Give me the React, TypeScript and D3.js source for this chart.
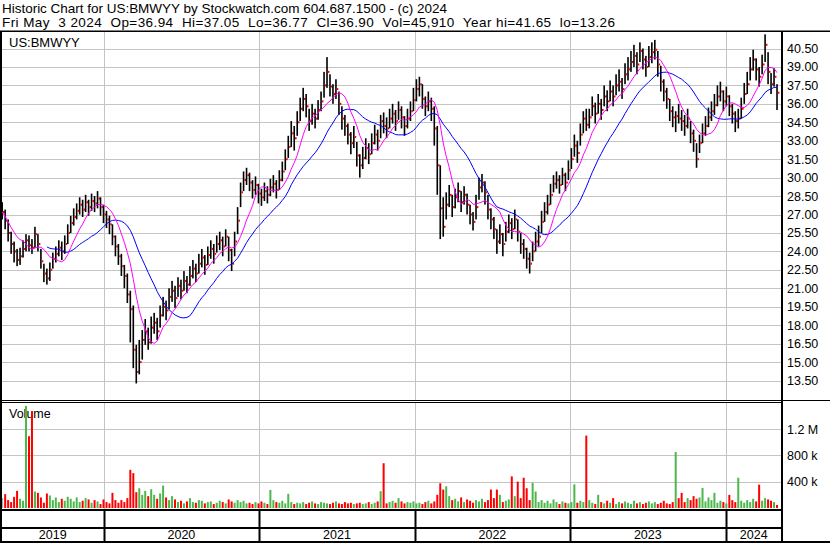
import React from 'react';
import * as d3 from 'd3';

const HEADER1 = 'Historic Chart for US:BMWYY by Stockwatch.com 604.687.1500 - (c) 2024';
const HEADER2 = 'Fri May  3 2024  Op=36.94  Hi=37.05  Lo=36.77  Cl=36.90  Vol=45,910  Year hi=41.65  lo=13.26';
const SYMBOL = 'US:BMWYY';
const VOLUME_TITLE = 'Volume';

const FIRST_WEEK = new Date(2019, 4, 8);

const CLOSE = [
  27.2, 26.5, 25.5, 24.6, 24.0, 23.3, 23.6, 24.2, 24.9, 24.5,
  24.3, 25.4, 24.6, 23.2, 22.2, 21.8, 22.5, 23.4, 23.8, 24.3,
  24.0, 24.6, 25.5, 26.3, 26.8, 27.3, 27.8, 27.4, 28.0, 27.6,
  28.1, 27.9, 28.3, 27.6, 27.0, 26.6, 26.2, 25.2, 24.4, 23.6,
  22.8, 22.0, 20.5, 19.3, 16.0, 14.2, 15.0, 16.8, 17.5, 16.6,
  17.8, 18.2, 17.5, 18.8, 19.5, 19.2, 20.3, 20.8, 20.2, 21.2,
  20.8, 21.6, 21.3, 22.0, 22.6, 22.2, 23.0, 23.5, 22.9, 23.7,
  24.2, 23.8, 24.6, 24.9, 24.4, 25.2, 24.1, 23.0, 24.8, 26.5,
  28.8, 29.8, 30.2, 29.6, 29.0, 29.4, 28.7, 28.4, 28.9, 28.6,
  29.2, 29.5, 29.0, 29.8, 30.5, 31.5, 32.5, 33.6, 33.2, 34.5,
  35.6, 36.4, 35.8, 34.6, 35.2, 34.8, 35.5, 36.2, 37.5, 38.6,
  37.4, 36.8, 37.2, 36.0, 34.8, 34.2, 33.5, 32.8, 33.3, 31.8,
  31.0, 31.6, 32.4, 31.9, 32.8, 33.5, 33.0, 34.6, 34.2, 34.0,
  34.8, 35.2, 34.6, 35.5, 34.9, 34.2, 34.8, 35.4, 36.3, 37.2,
  37.6, 36.4, 35.8, 36.2, 35.6, 34.0, 31.0, 27.5, 26.0, 27.8,
  28.6, 27.6, 28.4, 28.9, 28.0, 28.6, 27.8, 27.0, 26.4, 27.6,
  29.2, 29.6, 28.8, 27.4, 26.6, 25.8, 24.8, 25.4, 24.6, 25.6,
  26.3, 25.8, 26.6, 25.6, 24.6, 24.2, 23.4, 23.0, 24.0, 24.8,
  25.2, 26.4, 27.2, 27.8, 28.6, 29.5, 29.8, 29.4, 30.2, 29.6,
  30.6, 31.5, 32.6, 32.0, 33.5, 34.8, 34.3, 34.9, 35.8, 35.2,
  36.0, 35.5, 36.6, 36.2, 37.0, 36.6, 37.5, 37.8, 37.2, 38.4,
  38.8, 39.4, 39.9, 39.2, 40.3, 39.6, 39.0, 39.8, 40.2, 40.4,
  39.2, 37.8, 37.0, 36.4, 35.4, 34.9, 35.0, 34.8, 34.6, 34.2,
  34.8, 33.6, 33.0, 31.5, 32.8, 33.6, 34.2, 34.9, 35.4, 35.9,
  36.6, 37.0, 36.2, 36.6, 35.8, 35.2, 34.6, 34.8, 35.6, 36.8,
  37.6, 38.8, 39.6, 38.8, 38.2, 39.2, 40.8, 38.6, 37.6, 38.2,
  36.9,
];

const HIGH = [
  28.0, 27.4, 26.6, 25.6, 24.8, 24.2, 24.3, 24.9, 25.4, 25.3,
  25.0, 26.0, 25.4, 24.2, 23.0, 22.6, 23.1, 23.9, 24.4, 24.9,
  24.8, 25.3, 26.2, 26.9, 27.5, 27.9, 28.4, 28.2, 28.6, 28.2,
  28.7, 28.5, 28.9, 28.4, 27.8, 27.3, 26.9, 26.2, 25.3, 24.6,
  23.8, 22.9, 22.2, 20.8, 19.6, 16.4, 16.8, 17.6, 18.5, 17.8,
  18.7, 19.0, 18.6, 19.6, 20.3, 20.0, 21.0, 21.6, 21.2, 21.9,
  21.7, 22.4, 22.0, 22.8, 23.3, 23.0, 23.8, 24.2, 23.7, 24.4,
  24.9, 24.6, 25.3, 25.6, 25.2, 25.8, 25.2, 24.2, 25.6, 27.6,
  29.6, 30.5, 30.8, 30.4, 29.8, 30.1, 29.5, 29.1, 29.6, 29.3,
  29.9, 30.2, 29.8, 30.6, 31.3, 32.3, 33.4, 34.6, 34.2, 35.4,
  36.5, 37.3, 36.8, 35.6, 36.0, 35.6, 36.3, 37.0, 38.6, 39.8,
  38.4, 37.6, 38.0, 37.0, 35.8, 35.1, 34.4, 33.7, 34.2, 32.9,
  31.9, 32.5, 33.2, 32.8, 33.6, 34.3, 33.9, 35.1, 35.3, 34.9,
  35.6, 36.0, 35.5, 36.2, 35.8, 35.0, 35.6, 36.2, 37.3, 38.0,
  38.2, 37.6, 36.6, 37.0, 36.5, 35.8, 34.2, 31.0, 28.4, 28.8,
  29.4, 28.6, 29.1, 29.6, 28.9, 29.3, 28.7, 27.8, 27.2, 28.6,
  30.0, 30.3, 29.7, 28.6, 27.5, 26.8, 25.8, 26.2, 25.5, 26.4,
  27.0, 26.7, 27.4, 26.6, 25.5, 25.0, 24.3, 23.9, 24.8, 25.6,
  26.1, 27.3, 28.0, 28.6, 29.5, 30.2, 30.5, 30.2, 30.8, 30.4,
  31.4, 32.4, 33.5, 33.0, 34.4, 35.4, 35.6, 35.6, 36.6, 36.1,
  36.8, 36.4, 37.5, 37.1, 37.9, 37.5, 38.4, 38.8, 38.1, 39.3,
  39.8, 40.3, 40.8, 40.2, 41.0, 40.5, 39.9, 40.7, 41.0, 41.2,
  40.3, 39.1, 38.0, 37.3, 36.4, 35.8, 35.4, 36.0, 35.5, 35.1,
  35.6, 34.6, 33.9, 32.8, 33.5, 34.4, 35.0, 35.7, 36.2, 36.8,
  37.5, 37.8, 37.1, 37.4, 36.7, 36.0, 35.4, 35.6, 36.5, 37.7,
  38.6, 39.8, 40.4, 39.7, 39.0, 40.0, 41.65, 40.2, 38.5, 38.9,
  37.6,
];

const LOW = [
  26.6, 25.8, 24.8, 23.8, 23.1, 22.8, 22.9, 23.5, 24.0, 24.0,
  23.8, 24.3, 24.0, 22.6, 21.5, 21.3, 21.6, 22.6, 23.1, 23.6,
  23.3, 23.8, 24.6, 25.5, 26.1, 26.6, 27.0, 26.8, 27.2, 26.9,
  27.3, 27.2, 27.5, 26.9, 26.3, 25.9, 25.4, 24.5, 23.6, 22.9,
  22.0, 21.0, 19.8, 16.6, 14.5, 13.26, 14.0, 15.2, 16.4, 16.0,
  16.5, 17.3, 16.8, 17.8, 18.7, 18.4, 19.3, 19.9, 19.4, 20.3,
  20.1, 20.8, 20.6, 21.2, 21.8, 21.5, 22.2, 22.7, 22.1, 22.9,
  23.4, 23.0, 23.9, 24.1, 23.6, 24.4, 23.2, 22.4, 23.6, 25.4,
  27.6, 28.9, 29.4, 28.9, 28.3, 28.6, 27.9, 27.7, 28.1, 27.9,
  28.5, 28.8, 28.3, 29.0, 29.7, 30.6, 31.6, 32.5, 32.2, 33.4,
  34.6, 35.4, 34.9, 33.8, 34.3, 34.0, 34.7, 35.4, 36.5, 37.3,
  36.6, 36.0, 36.4, 35.1, 33.9, 33.4, 32.7, 31.9, 32.4, 30.9,
  30.0, 30.7, 31.5, 31.1, 31.9, 32.7, 32.2, 33.2, 33.6, 33.2,
  34.0, 34.4, 33.8, 34.7, 34.0, 33.4, 34.0, 34.6, 35.4, 36.2,
  36.6, 35.6, 35.0, 35.4, 34.6, 32.6, 28.6, 25.0, 25.2, 26.6,
  27.6, 26.8, 27.5, 28.0, 27.2, 27.8, 27.0, 26.2, 25.7, 26.6,
  28.2, 28.8, 27.8, 26.6, 25.8, 25.0, 23.8, 24.6, 23.6, 24.8,
  25.5, 25.0, 25.8, 24.8, 23.8, 23.4, 22.6, 22.2, 23.2, 24.0,
  24.4, 25.5, 26.4, 27.0, 27.8, 28.8, 29.1, 28.7, 29.4, 28.9,
  29.8, 30.7, 31.7, 31.2, 32.6, 33.6, 33.8, 34.0, 35.0, 34.4,
  35.2, 34.7, 35.8, 35.4, 36.2, 35.8, 36.7, 37.0, 36.4, 37.6,
  37.9, 38.6, 39.0, 38.4, 39.4, 38.8, 38.2, 39.0, 39.3, 39.6,
  38.2, 37.0, 36.2, 35.6, 34.6, 34.1, 33.7, 34.4, 33.8, 33.4,
  34.0, 32.8, 32.1, 30.8, 32.0, 32.8, 33.4, 34.1, 34.6, 35.1,
  35.8, 36.2, 35.4, 35.8, 35.0, 34.4, 33.7, 34.0, 34.8, 36.0,
  36.8, 37.9, 38.7, 37.9, 37.4, 38.4, 39.4, 37.6, 36.8, 37.4,
  35.5,
];

// volume in thousands of shares
const VOLUME_K = [
  150, 210, 120, 90, 170, 260, 140, 110, 1550, 1090,
  1470, 250, 230, 160, 80, 220, 190, 120, 160, 90,
  140, 110, 170, 140, 100, 160, 90, 110, 150, 130,
  80, 120, 100, 60, 130, 90, 70, 230, 120, 80,
  120, 90, 150, 580, 530, 240, 300, 200, 260, 180,
  285, 200, 140, 220, 340, 160, 120, 180, 130, 90,
  110, 70, 100, 150, 90, 80, 120, 110, 70, 90,
  100, 60, 80, 110, 90, 70, 130, 100, 80, 120,
  90, 110, 70, 80, 60, 90, 70, 100, 80, 60,
  275, 120, 90, 80, 110, 70, 215, 90, 60, 80,
  70, 90, 60, 80, 100, 70, 60, 90, 80, 70,
  60, 80, 100, 70, 60, 90, 70, 80, 60, 70,
  80, 60, 70, 90, 60, 80, 100, 255, 680, 70,
  90, 110, 80, 150, 100, 70, 90, 80, 100, 70,
  80, 60, 90, 110, 70, 100, 200, 375, 280, 330,
  180, 120, 140, 100, 160, 90, 130, 110, 80, 120,
  100, 140, 90, 120, 280, 150, 280, 200, 90, 110,
  130, 480, 180, 400, 150, 460, 300, 120, 380, 250,
  90, 120, 80, 110, 70, 130, 90, 60, 100, 80,
  70, 90, 360, 80, 110, 90, 1100, 120, 80, 60,
  200, 90, 70, 110, 80, 150, 60, 90, 70, 100,
  80, 60, 110, 70, 90, 60, 80, 100, 70, 90,
  60, 80, 110, 70, 60, 90, 850, 150, 230, 90,
  150, 120, 180, 140, 160, 305, 100, 160, 120, 230,
  80, 110, 90, 70, 200, 120, 90, 460, 110, 80,
  120, 90, 140, 100, 355, 110, 150, 130, 110, 90,
  46,
];

const PRICE_TICKS = [13.5, 15, 16.5, 18, 19.5, 21, 22.5, 24, 25.5, 27, 28.5, 30, 31.5, 33, 34.5, 36, 37.5, 39, 40.5];
const VOLUME_TICKS = [400, 800, 1200];
const VOLUME_TICK_LABELS = ['400 k', '800 k', '1.2 M'];
const YEARS = [2019, 2020, 2021, 2022, 2023, 2024];

const MA_FAST = 8;
const MA_SLOW = 20;

const FONT = '"Liberation Sans", Arial, sans-serif';

function sma(values: number[], n: number, minCount: number) {
  return values.map((_, i) => {
    const s = Math.max(0, i - n + 1);
    const win = values.slice(s, i + 1);
    return win.length >= minCount ? d3.mean(win)! : null;
  });
}

export default function App() {
  const W = 830, H = 543;
  const L = 2, R = 782;
  const pTop = 32, pBot = 400;
  const vTop = 402, vBot = 509;

  const x = d3.scaleTime()
    .domain([new Date(2020, 0, 1), new Date(2024, 0, 1)])
    .range([103.5, 725.5]);
  const y = d3.scaleLinear().domain([13.5, 40.5]).range([380.5, 48.5]);
  const yv = d3.scaleLinear().domain([0, 1200]).range([508, 429]);

  const dates = CLOSE.map((_, i) => d3.timeDay.offset(FIRST_WEEK, 7 * i));
  const xs = dates.map((d) => x(d));

  const fast = sma(CLOSE, MA_FAST, 1);
  const slow = sma(CLOSE, MA_SLOW, 16);
  const line = d3.line<number | null>()
    .defined((d) => d != null)
    .x((_, i) => xs[i])
    .y((d) => y(d as number));

  const gridColor = '#c4c4c4';
  const boundaries = YEARS.slice(1).map((yr) => Math.round(x(new Date(yr, 0, 1))) + 0.5);

  return (
    <svg width={W} height={H} style={{ position: 'absolute', left: 0, top: 0, background: '#fff' }}
      fontFamily={FONT}>
      <rect x={0} y={0} width={W} height={H} fill="#fff" />
      <text x={2} y={13} fontSize={13.5} fill="#000" xmlSpace="preserve" textLength={445} lengthAdjust="spacing">{HEADER1}</text>
      <text x={2} y={27} fontSize={13.5} fill="#000" xmlSpace="preserve" textLength={613} lengthAdjust="spacing">{HEADER2}</text>

      <defs>
        <clipPath id="plotClip"><rect x={L} y={pTop} width={R - L - 1} height={pBot - pTop} /></clipPath>
        <clipPath id="volClip"><rect x={L} y={vTop} width={R - L - 1} height={vBot - vTop} /></clipPath>
      </defs>

      {/* price grid */}
      {PRICE_TICKS.map((t) => (
        <line key={'pg' + t} x1={L} x2={R - 1} y1={Math.round(y(t)) + 0.5} y2={Math.round(y(t)) + 0.5}
          stroke={gridColor} strokeWidth={1} />
      ))}
      {boundaries.map((bx, i) => (
        <line key={'vg' + i} x1={bx} x2={bx} y1={pTop} y2={pBot} stroke={gridColor} strokeWidth={1} />
      ))}
      {/* volume grid */}
      {VOLUME_TICKS.map((t) => (
        <line key={'vgl' + t} x1={L} x2={R - 1} y1={Math.round(yv(t)) + 0.5} y2={Math.round(yv(t)) + 0.5}
          stroke={gridColor} strokeWidth={1} />
      ))}
      {boundaries.map((bx, i) => (
        <line key={'vvg' + i} x1={bx} x2={bx} y1={vTop} y2={vBot} stroke={gridColor} strokeWidth={1} />
      ))}

      <text x={9} y={46.5} fontSize={13} fill="#000">{SYMBOL}</text>

      {/* price bars */}
      <g clipPath="url(#plotClip)">
        {CLOSE.map((c, i) => {
          const cx = xs[i];
          const yh = y(HIGH[i]);
          const yl = y(LOW[i]);
          return (
            <g key={'b' + i}>
              <rect x={cx - 0.8} y={yh} width={1.6} height={Math.max(1, yl - yh)} fill="#000" />
              <rect x={cx + 0.8} y={y(c) - 1} width={1.6} height={2} fill="#ff0000" />
            </g>
          );
        })}
        <path d={line(slow) || ''} fill="none" stroke="#0000ff" strokeWidth={1} />
        <path d={line(fast) || ''} fill="none" stroke="#ff00ff" strokeWidth={1} />
      </g>

      {/* volume */}
      <text x={9} y={418} fontSize={12.5} fill="#000">{VOLUME_TITLE}</text>
      <g clipPath="url(#volClip)">
        {VOLUME_K.map((v, i) => {
          const prev = i > 0 ? CLOSE[i - 1] : CLOSE[i];
          const col = CLOSE[i] > prev ? '#4cb84c' : CLOSE[i] < prev ? '#ff0000' : '#a8a8a8';
          const top = yv(v);
          return <rect key={'v' + i} x={xs[i] - 1} y={top} width={2} height={yv(0) - top} fill={col} />;
        })}
      </g>

      {/* frame lines */}
      <rect x={0} y={30.5} width={W} height={1.5} fill="#000" />
      <rect x={0} y={31} width={2} height={H - 31} fill="#000" />
      <rect x={R - 1} y={31} width={2} height={H - 31} fill="#000" />
      <rect x={0} y={400} width={W} height={1} fill="#000" />
      <rect x={0} y={402} width={R} height={1} fill="#000" />
      <rect x={0} y={vBot} width={R} height={2} fill="#000" />
      <rect x={0} y={527} width={R} height={2} fill="#000" />
      <rect x={0} y={541} width={W} height={2} fill="#000" />
      {boundaries.map((bx, i) => (
        <line key={'yb' + i} x1={bx} x2={bx} y1={511} y2={541} stroke="#000" strokeWidth={2} />
      ))}

      {/* right axis labels */}
      {PRICE_TICKS.map((t) => (
        <text key={'pl' + t} x={787} y={y(t) + 4.5} fontSize={12.5} fill="#000">{t.toFixed(2)}</text>
      ))}
      {VOLUME_TICKS.map((t, i) => (
        <text key={'vl' + t} x={787} y={yv(t) + 4.5} fontSize={12.5} fill="#000">{VOLUME_TICK_LABELS[i]}</text>
      ))}

      {/* year labels */}
      {YEARS.map((yr) => {
        const a = Math.max(L, x(new Date(yr, 0, 1)));
        const b = Math.min(R, x(new Date(yr + 1, 0, 1)));
        return (
          <text key={'y' + yr} x={(a + b) / 2} y={539} fontSize={12.5} textAnchor="middle" fill="#000">{yr}</text>
        );
      })}
    </svg>
  );
}
